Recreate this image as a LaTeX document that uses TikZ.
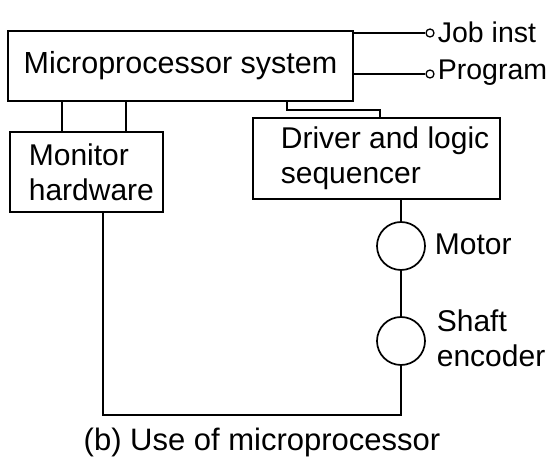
\documentclass[tikz,border=0pt]{standalone}
\usepackage{fontspec}
\setmainfont{Liberation Sans}
\begin{document}
\begin{tikzpicture}[x=1pt,y=-1pt,
  line width=1.7pt,
  blk/.style={draw, rectangle, inner sep=0pt},
  txt/.style={inner sep=0pt, anchor=west, font=\fontsize{30}{35}\selectfont, align=left},
  rotor/.style={draw, circle, minimum size=48pt, inner sep=0pt},
  term/.style={draw, circle, minimum size=8pt, inner sep=0pt, line width=1.3pt}
]
\useasboundingbox (0,0) rectangle (550,473);
\clip (0,0) rectangle (550,473);

% blocks
\node[blk, minimum width=345pt, minimum height=70pt, font=\fontsize{30.5}{34}\selectfont] (micro) at (180.5,66) {Microprocessor system};
\node[blk, minimum width=153pt, minimum height=80pt] (monitor) at (86.5,172) {};
\node[blk, minimum width=247pt, minimum height=81pt] (driver) at (376.5,158.5) {};
\node[txt] (montxt) at (28,172) {Monitor\\hardware};
\node[txt] (drvtxt) at (280,158) {Driver and logic\\sequencer};

% motor and encoder
\node[rotor] (motor) at (401,246) {};
\node[rotor] (enc) at (401,341) {};
\node[txt] (motlbl) at (434,244) {Motor};
\node[txt] (enclbl) at (436,338) {Shaft\\encoder};

% input terminals
\node[term] (job) at (430,33) {};
\node[term] (prog) at (430,74) {};
\node[txt, font=\fontsize{28.5}{32}\selectfont] (joblbl) at (437,32) {Job inst};
\node[txt, font=\fontsize{28.5}{32}\selectfont] (proglbl) at (437,73) {Program};

% bus positions
\coordinate (ma) at (62,0);
\coordinate (mb) at (126,0);
\coordinate (da) at (287,0);
\coordinate (db) at (380,0);
\coordinate (fb) at (103,0);
\coordinate (bot) at (0,415);

% connectors
\draw (micro.east |- job) -- (job.west);
\draw (micro.east |- prog) -- (prog.west);
\draw (micro.south -| ma) -- (monitor.north -| ma);
\draw (micro.south -| mb) -- (monitor.north -| mb);
\draw (micro.south -| da) -- ++(0,8) -| (driver.north -| db);
\draw (driver.south -| motor) -- (motor.north);
\draw (motor.south) -- (enc.north);
\draw (enc.south) -- (enc.south |- bot) -| (monitor.south -| fb);

% caption
\node[inner sep=0pt, font=\fontsize{31}{34}\selectfont] (cap) at (262,442) {(b) Use of microprocessor};
\end{tikzpicture}
\end{document}
